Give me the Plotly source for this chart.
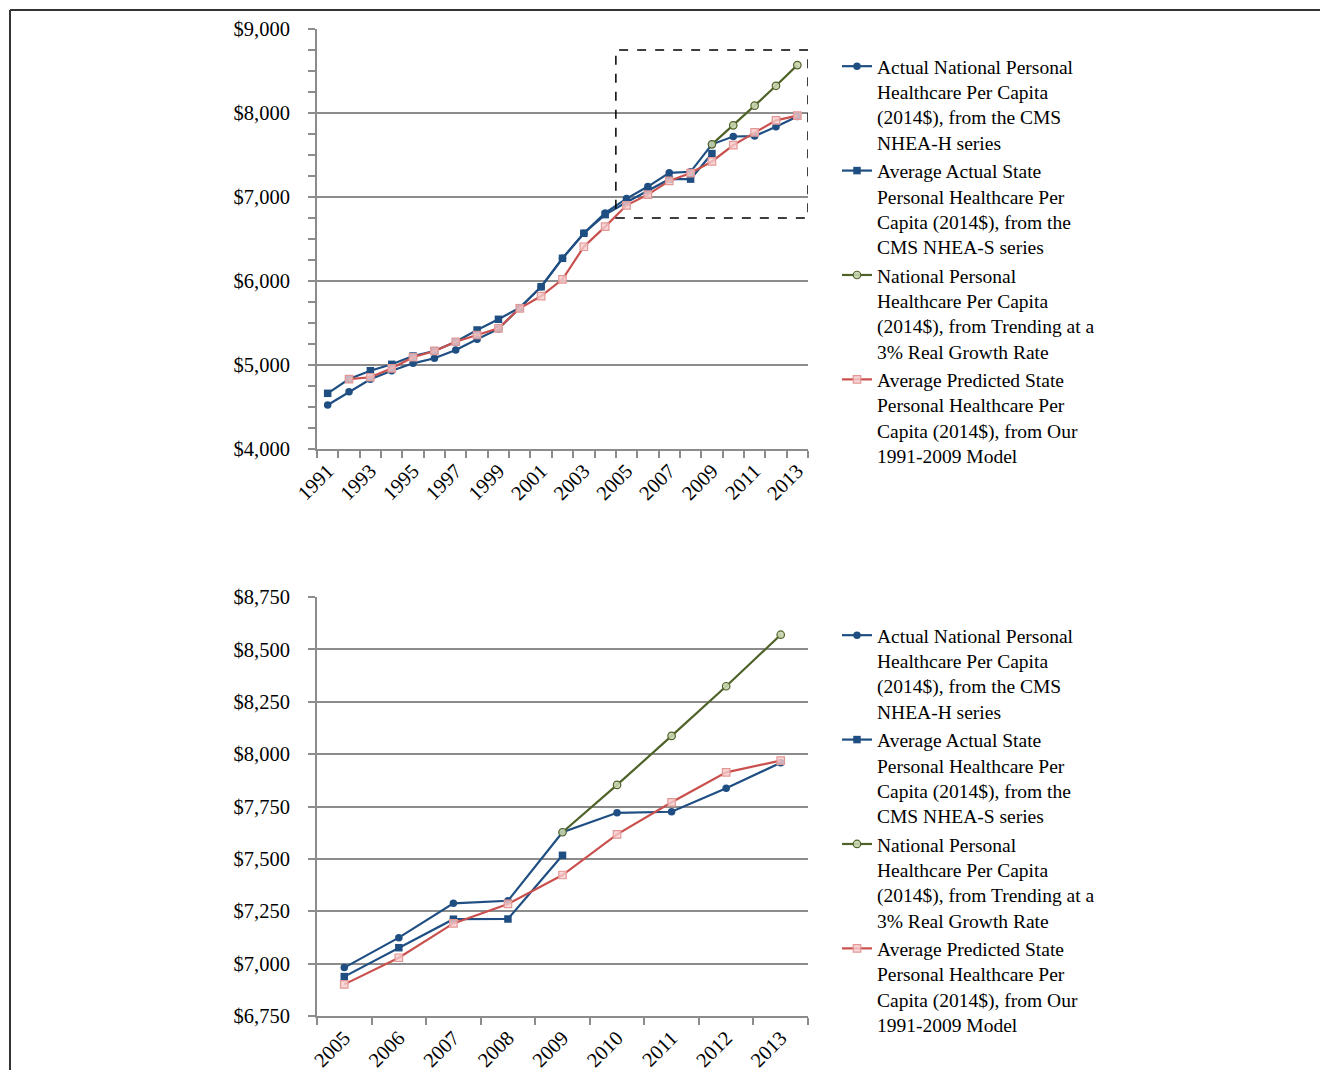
import plotly.graph_objects as go

# ---------------- data ----------------
years = list(range(1991, 2014))
national = [4524, 4682, 4830, 4932, 5020, 5080, 5179, 5306, 5429, 5682, 5932, 6270,
            6568, 6810, 6981, 7124, 7288, 7300, 7627, 7720, 7725, 7837, 7959]
state = [4663, 4833, 4932, 5008, 5107, 5167, 5277, 5417, 5544, 5682, 5932, 6270,
         6568, 6790, 6938, 7076, 7212, 7213, 7517, None, None, None, None]
trend = [None] * 18 + [7627, 7853, 8087, 8324, 8570]
predicted = [None, 4833, 4854, 4961, 5092, 5167, 5277, 5357, 5437, 5675, 5821, 6020,
             6408, 6647, 6901, 7028, 7192, 7285, 7423, 7617, 7770, 7913, 7969]

zoom_start = 2005
names = [
    "Actual National Personal<br>Healthcare Per Capita<br>(2014$), from the CMS<br>NHEA-H series",
    "Average Actual State<br>Personal Healthcare Per<br>Capita (2014$), from the<br>CMS NHEA-S series",
    "National Personal<br>Healthcare Per Capita<br>(2014$), from Trending at a<br>3% Real Growth Rate",
    "Average Predicted State<br>Personal Healthcare Per<br>Capita (2014$), from Our<br>1991-2009 Model",
]

# ---------------- styles ----------------
FONT = "Liberation Serif, Times New Roman, serif"
BLUE = "#1F4E82"
GREEN = "#4F6228"
RED = "#C9504D"
AX = "#8C8C8C"

styles = [
    dict(line=dict(color=BLUE, width=2.2),
         marker=dict(symbol="circle", size=7.5, color=BLUE)),
    dict(line=dict(color=BLUE, width=2.2),
         marker=dict(symbol="square", size=7.5, color=BLUE)),
    dict(line=dict(color=GREEN, width=2.2),
         marker=dict(symbol="circle", size=7.5, color="rgba(200,212,175,0.9)",
                     line=dict(color=GREEN, width=1.2))),
    dict(line=dict(color=RED, width=2.2),
         marker=dict(symbol="square", size=7.5, color="rgba(245,205,205,0.8)",
                     line=dict(color="#E49896", width=1.2))),
]
series = [national, state, trend, predicted]

fig = go.Figure()
zi = years.index(zoom_start)
for k, (s, st) in enumerate(zip(series, styles)):
    fig.add_trace(go.Scatter(x=years, y=s, name=names[k], mode="lines+markers",
                             connectgaps=False, xaxis="x", yaxis="y",
                             legend="legend", **st))
for k, (s, st) in enumerate(zip(series, styles)):
    fig.add_trace(go.Scatter(x=years[zi:], y=s[zi:], name=names[k], mode="lines+markers",
                             connectgaps=False, xaxis="x2", yaxis="y2",
                             legend="legend2", **st))

# figure is sized to fit the window inside the page's 8px body margin
OFF = 8
W, H = 1338 - 2 * OFF, 1080 - 2 * OFF
def fx(px):
    return (px - OFF) / W
def fy(py):
    return 1 - (py - OFF) / H

tickfont = dict(family=FONT, size=20.5, color="black")
legfont = dict(family=FONT, size=19.5, color="black")
common_x = dict(showgrid=False, showline=True, linecolor=AX, linewidth=2,
                ticks="", tickangle=-45, tickfont=tickfont, zeroline=False,
                automargin=False)
common_y = dict(showgrid=True, gridcolor=AX, gridwidth=1.5, showline=True,
                linecolor=AX, linewidth=2, ticks="outside", ticklen=7,
                tickcolor=AX, tickwidth=1.5, tickprefix="$", tickformat=",",
                tickfont=tickfont, zeroline=False, ticklabelstandoff=14,
                automargin=False)

fig.update_layout(
    width=W, height=H,
    margin=dict(l=0, r=0, t=0, b=0),
    paper_bgcolor="white", plot_bgcolor="white",
    font=dict(family=FONT, size=20, color="black"),
    xaxis=dict(domain=[fx(317), fx(808)], range=[years[0] - 0.5, years[-1] + 0.5],
               tickvals=years[::2], ticktext=[str(y) for y in years[::2]],
               minor=dict(tickvals=[y - 0.5 for y in years] + [years[-1] + 0.5],
                          ticks="outside", ticklen=7, tickcolor=AX, tickwidth=1.5),
               anchor="y", **common_x),
    yaxis=dict(domain=[fy(449), fy(29)], range=[4000, 9000], dtick=1000,
               minor=dict(dtick=250, ticks="outside", ticklen=7, tickcolor=AX,
                          tickwidth=1.5, showgrid=False),
               anchor="x", **common_y),
    xaxis2=dict(domain=[fx(317), fx(808)], range=[zoom_start - 0.5, years[-1] + 0.5],
                tickvals=years[zi:], ticktext=[str(y) for y in years[zi:]],
                minor=dict(tickvals=[y - 0.5 for y in years[zi:]] + [years[-1] + 0.5],
                           ticks="outside", ticklen=7, tickcolor=AX, tickwidth=1.5),
                anchor="y2", **common_x),
    yaxis2=dict(domain=[fy(1016), fy(597)], range=[6750, 8750], dtick=250,
                anchor="x2", **common_y),
    legend=dict(x=fx(837), y=fy(47), xanchor="left", yanchor="top",
                font=legfont, valign="top", bgcolor="rgba(0,0,0,0)", tracegroupgap=0),
    legend2=dict(x=fx(837), y=fy(616), xanchor="left", yanchor="top",
                 font=legfont, valign="top", bgcolor="rgba(0,0,0,0)", tracegroupgap=0),
    showlegend=True,
)

# dashed zoom box on the top chart
fig.add_shape(type="rect", xref="x", yref="y", x0=zoom_start - 0.5, x1=years[-1] + 0.5,
              y0=6750, y1=8750, line=dict(color="black", width=1.5, dash="dash"))
# page frame (top and left edges), kept just inside the figure
fig.add_shape(type="line", xref="paper", yref="paper", x0=fx(10), x1=fx(1320),
              y0=fy(10), y1=fy(10), line=dict(color="#333333", width=2))
fig.add_shape(type="line", xref="paper", yref="paper", x0=fx(10), x1=fx(10),
              y0=fy(1070), y1=fy(10), line=dict(color="#333333", width=2))

fig.write_html("out.html")
